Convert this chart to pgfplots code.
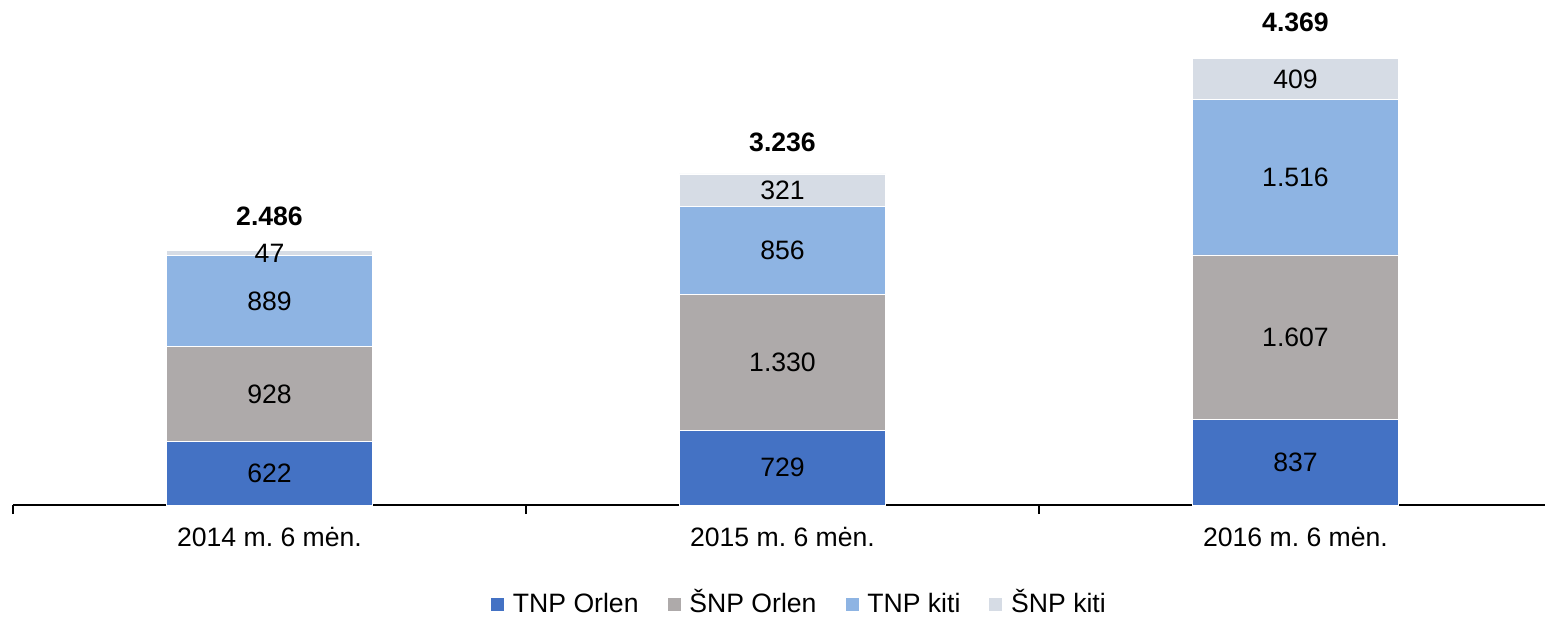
\documentclass[border=0pt]{standalone}
\usepackage{fontspec}
\setmainfont{Liberation Sans}
\usepackage{pgfplots}
\pgfplotsset{compat=1.18}
\usepackage{pgfplotstable}
\frenchspacing
\definecolor{c1}{HTML}{4472C4}
\definecolor{c2}{HTML}{AEAAAA}
\definecolor{c3}{HTML}{8EB4E3}
\definecolor{c4}{HTML}{D6DCE5}
\newcommand{\lblfont}{\fontsize{13.3}{15}\selectfont}
\pgfplotstableread{
x a b c d
0 622 928 889 47
1 729 1330 856 321
2 837 1607 1516 409
}\bars
\pgfplotstableread{
x y label
0 311 622
0 1086 928
0 1994.5 889
0 2462.5 47
1 364.5 729
1 1394 1.330
1 2487 856
1 3075.5 321
2 418.5 837
2 1640.5 1.607
2 3202 1.516
2 4164.5 409
}\seglabels
\pgfplotstableread{
x y label
0 2825 2.486
1 3548 3.236
2 4721 4.369
}\totals
\pgfplotsset{
  base/.style={scale only axis, width=766pt, height=250.66pt,
    xmin=-0.5, xmax=2.4864, ymin=0, ymax=4900},
  sqleg/.style={legend image code/.code={\fill[##1] (0pt,-3.3pt) rectangle (7pt,3.7pt);}}
}
\begin{document}
\begin{tikzpicture}
\begin{axis}[base, ybar stacked, bar width=103pt,
  axis y line=none, axis x line*=bottom,
  axis line style={-, line width=0.75pt, black},
  xtick={0,1,2},
  xticklabels={2014 m. 6 mėn., 2015 m. 6 mėn., 2016 m. 6 mėn.},
  major tick length=0pt,
  minor xtick={-0.5,0.5,1.5,2.5},
  minor tick length=4.5pt, tick align=outside,
  minor tick style={black, line width=0.75pt},
  xticklabel style={font=\lblfont, anchor=north, yshift=-7.5pt},
  legend style={at={(0.5137,-0.1995)}, anchor=center, draw=none,
    font=\lblfont, legend columns=4,
    nodes={text height=0.95em, text depth=0.22em},
    /tikz/every odd column/.append style={column sep=2pt},
    /tikz/every even column/.append style={column sep=12pt}},
]
\addplot[fill=c1, draw=white, line width=0.4pt, sqleg] table[x=x,y=a]{\bars};
\addlegendentry{TNP Orlen}
\addplot[fill=c2, draw=white, line width=0.4pt, sqleg] table[x=x,y=b]{\bars};
\addlegendentry{ŠNP Orlen}
\addplot[fill=c3, draw=white, line width=0.4pt, sqleg] table[x=x,y=c]{\bars};
\addlegendentry{TNP kiti}
\addplot[fill=c4, draw=white, line width=0.4pt, sqleg] table[x=x,y=d]{\bars};
\addlegendentry{ŠNP kiti}
\end{axis}
\begin{axis}[base, hide axis, nodes near coords, point meta=explicit symbolic,
  every node near coord/.append style={anchor=center, font=\lblfont, text=black}]
\addplot[draw=none] table[x=x,y=y,meta=label]{\seglabels};
\addplot[draw=none, every node near coord/.append style={font=\lblfont\bfseries}] table[x=x,y=y,meta=label]{\totals};
\end{axis}
\pgfresetboundingbox
\path (-6.5pt,-56.5pt) rectangle (766pt,252.5pt);
\end{tikzpicture}
\end{document}
